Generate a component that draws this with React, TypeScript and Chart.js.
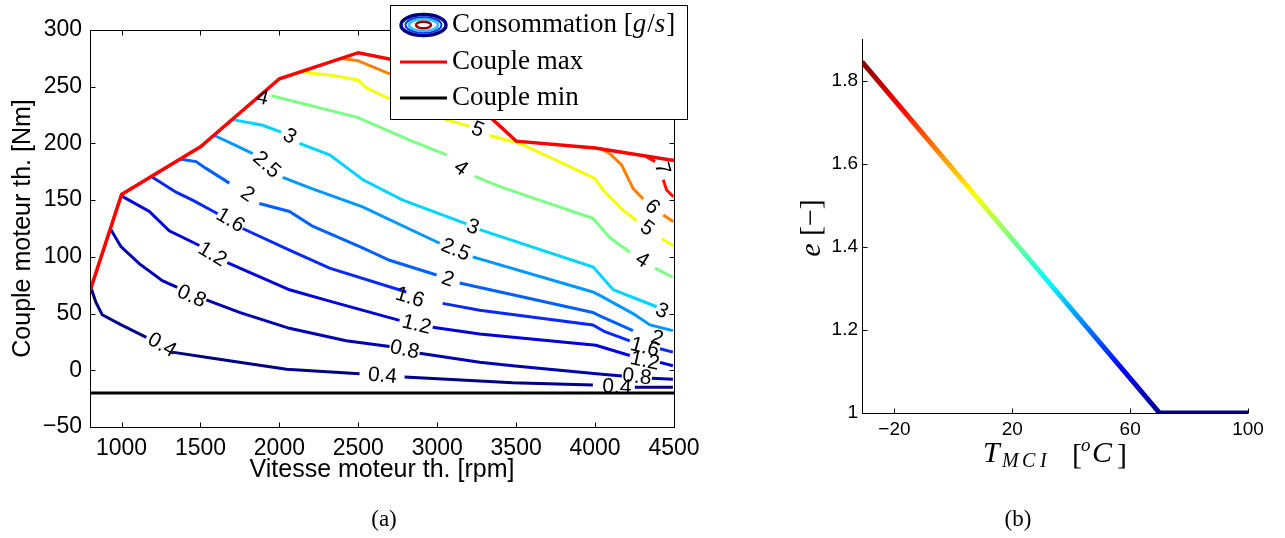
import React, { useEffect, useRef } from "react";
import { Chart, registerables } from "chart.js";

Chart.register(...registerables);

// ---------------- Panel (a) data ----------------
const speedTicks = [1000, 1500, 2000, 2500, 3000, 3500, 4000, 4500];
const torqueTicks = [-50, 0, 50, 100, 150, 200, 250, 300];
const maxSpeed = [800, 1000, 1500, 2000, 2500, 3000, 3500, 4000, 4500];
const maxTorque = [70, 155, 197, 257, 280, 266, 202, 196, 185];
const minSpeed = [800, 4500];
const minTorque = [-20, -20];

type P = [number, number] | null;
// iso-consumption contours [rpm, Nm]; null = gap for an inline label
const c04: P[] = [[806, 73], [837, 60], [877, 49], [998, 40], [1157, 29], null, [1321, 16], [1556, 11], [2045, 1], [2508, -3], null, [2793, -6], [3478, -11], [3986, -13], null, [4252, -15], [4493, -15]];
const c08: P[] = [[933, 124], [996, 109], [1112, 94], [1258, 79], [1353, 73], null, [1537, 62], [1747, 51], [2064, 37], [2423, 26], [2698, 21], null, [2888, 15], [3269, 7], [3478, 4], [4009, -3], [4170, -5], null, [4360, -7], [4493, -8]];
const c12: P[] = [[996, 154], [1176, 140], [1302, 123], [1493, 110], null, [1670, 95], [2064, 71], [2318, 61], [2761, 44], null, [2971, 38], [3269, 32], [4005, 22], [4220, 13], null, [4411, 7], [4493, 4]];
const c16: P[] = [[1186, 171], [1345, 157], [1450, 150], [1609, 138], null, [1767, 125], [2064, 106], [2318, 90], [2804, 69], null, [3034, 59], [3269, 53], [3986, 40], [4062, 34], [4220, 26], null, [4411, 19], [4493, 16]];
const c2: P[] = [[1377, 186], [1472, 184], [1535, 178], [1683, 165], null, [1873, 147], [2064, 140], [2210, 127], [2527, 108], [2698, 97], [2996, 84], null, [3142, 77], [3986, 51], [4030, 48], [4240, 35]];
const c25: P[] = [[1588, 207], [1726, 198], [1831, 191], null, [2021, 170], [2210, 160], [2527, 144], [3015, 112], null, [3225, 100], [3986, 69], [4030, 66], [4240, 50], [4348, 40], [4493, 35]];
const c3: P[] = [[1704, 221], [1894, 216], [2011, 210], null, [2127, 200], [2318, 190], [2529, 168], [2782, 150], [3185, 129], null, [3269, 124], [3988, 91], [4115, 71], [4390, 56]];
const c4: P[] = [[1950, 242], [2064, 238], [2495, 223], [2825, 203], [3060, 190], null, [3237, 171], [3415, 161], [3986, 134], [4093, 117], [4220, 104], null, [4380, 90], [4493, 82]];
const c5: P[] = [[2138, 263], [2338, 260], [2497, 256], [2550, 249], [2688, 240], [3058, 221], [3206, 215], null, [3332, 207], [3523, 200], [3756, 185], [3999, 169], [4051, 159], [4178, 141], [4263, 132], null, [4422, 116], [4496, 110]];
const c6: P[] = [[2381, 275], [2497, 273], [2687, 262], [2900, 252], [3150, 246], null, [4030, 196], [4093, 191], [4168, 181], [4242, 160], [4305, 151], null, [4432, 137], [4496, 131]];
const c7: P[] = [[4327, 188], [4380, 184], null, [4432, 168], [4453, 159], [4496, 153]];

const levels = ["0.4", "0.8", "1.2", "1.6", "2", "2.5", "3", "4", "5", "6", "7"];
const levelColors = ["#000088", "#0000B4", "#0000E0", "#0828FF", "#0060FF", "#0098FF", "#00D4FF", "#7CFF84", "#F4FF00", "#FF8000", "#FF1000"];
const contourLines = [c04, c08, c12, c16, c2, c25, c3, c4, c5, c6, c7];

const contourLabels = [
  { t: "0.4", x: 1255, y: 22, a: 30 },
  { t: "0.4", x: 2653, y: -5, a: 5 },
  { t: "0.4", x: 4138, y: -15, a: 3 },
  { t: "0.8", x: 1442, y: 65, a: 24 },
  { t: "0.8", x: 2793, y: 18, a: 12 },
  { t: "0.8", x: 4265, y: -6, a: 6 },
  { t: "1.2", x: 1575, y: 102, a: 31 },
  { t: "1.2", x: 2869, y: 40, a: 14 },
  { t: "1.2", x: 4315, y: 8, a: 12 },
  { t: "1.6", x: 1689, y: 132, a: 31 },
  { t: "1.6", x: 2826, y: 64, a: 17 },
  { t: "1.6", x: 4315, y: 20, a: 15 },
  { t: "2", x: 1797, y: 155, a: 34 },
  { t: "2", x: 3066, y: 80, a: 19 },
  { t: "2", x: 4392, y: 28, a: 17 },
  { t: "2.5", x: 1918, y: 181, a: 42 },
  { t: "2.5", x: 3116, y: 106, a: 23 },
  { t: "3", x: 2064, y: 206, a: 31 },
  { t: "3", x: 3225, y: 126, a: 20 },
  { t: "3", x: 4422, y: 52, a: 25 },
  { t: "4", x: 1892, y: 240, a: 14 },
  { t: "4", x: 3149, y: 178, a: 37 },
  { t: "4", x: 4297, y: 97, a: 33 },
  { t: "5", x: 3256, y: 212, a: 22 },
  { t: "5", x: 4328, y: 125, a: 36 },
  { t: "6", x: 4360, y: 144, a: 45 },
  { t: "7", x: 4423, y: 178, a: 75 },
];

// ---------------- Panel (b) data ----------------
const tempTicks = [-20, 20, 60, 100];
const eTicks = [1, 1.2, 1.4, 1.6, 1.8];
const tempValues = [-31, 70, 100];
const eValues = [1.845, 1, 1];

const jetStops: [number, string][] = [
  [0, "#00008F"], [0.125, "#0000FF"], [0.375, "#00FFFF"], [0.625, "#FFFF00"], [0.875, "#FF0000"], [1, "#800000"],
];

const SANS = '"Liberation Sans", Arial, Helvetica, sans-serif';
const SERIF = '"Liberation Serif", "Times New Roman", serif';

const fmt = (v: any) => {
  const n = Number(v);
  return n < 0 ? "\u2212" + String(Math.abs(n)) : String(n);
};

const toXY = (pts: P[]) =>
  pts.map((p, i) => {
    if (p) return { x: p[0], y: p[1] };
    const prev = pts[i - 1] as [number, number];
    return { x: prev[0], y: null };
  });

function drawLegend(ctx: CanvasRenderingContext2D) {
  const L = 390, T = 5, R = 688, B = 120;
  ctx.save();
  ctx.fillStyle = "#fff";
  ctx.fillRect(L, T, R - L, B - T);
  ctx.strokeStyle = "#000";
  ctx.lineWidth = 1;
  ctx.strokeRect(L + 0.5, T + 0.5, R - L - 1, B - T - 1);

  const ell = (rx: number, ry: number, color: string, w: number) => {
    ctx.beginPath();
    ctx.ellipse(423.5, 25, rx, ry, 0, 0, Math.PI * 2);
    ctx.strokeStyle = color;
    ctx.lineWidth = w;
    ctx.stroke();
  };
  ell(22.5, 10.5, "#000080", 3.5);
  ell(18, 7.8, "#0030FF", 2);
  ell(14.5, 6, "#30C0FF", 2.5);
  ell(7.5, 3.3, "#9A0000", 2.5);

  ctx.lineWidth = 3;
  ctx.strokeStyle = "#FF0000";
  ctx.beginPath(); ctx.moveTo(400, 62); ctx.lineTo(447, 62); ctx.stroke();
  ctx.strokeStyle = "#000";
  ctx.beginPath(); ctx.moveTo(400, 98); ctx.lineTo(447, 98); ctx.stroke();

  ctx.fillStyle = "#000";
  ctx.textBaseline = "middle";
  ctx.textAlign = "left";
  const up = "27px " + SERIF;
  const it = "italic 27px " + SERIF;
  let x = 452;
  const parts: [string, string][] = [["Consommation [", up], ["g", it], ["/", up], ["s", it], ["]", up]];
  for (const [s, f] of parts) {
    ctx.font = f;
    ctx.fillText(s, x, 25);
    x += ctx.measureText(s).width + (s === "g" || s === "s" ? 1 : 0);
  }
  ctx.font = up;
  ctx.fillText("Couple max", 452, 62);
  ctx.fillText("Couple min", 452, 98);
  ctx.restore();
}

const labelsPlugin = {
  id: "contourLabels",
  afterDatasetsDraw(chart: any) {
    const { ctx, scales } = chart;
    ctx.save();
    ctx.font = "21px " + SANS;
    ctx.fillStyle = "#000";
    ctx.textAlign = "center";
    ctx.textBaseline = "middle";
    for (const l of contourLabels) {
      ctx.save();
      ctx.translate(scales.x.getPixelForValue(l.x), scales.y.getPixelForValue(l.y));
      ctx.rotate((l.a * Math.PI) / 180);
      ctx.fillText(l.t, 0, 0);
      ctx.restore();
    }
    ctx.restore();
  },
};

const framePluginA = {
  id: "frameA",
  afterDraw(chart: any) {
    const { ctx, chartArea: a, scales } = chart;
    ctx.save();
    ctx.strokeStyle = "#000";
    ctx.lineWidth = 1;
    const l = Math.round(a.left) + 0.5, r = Math.round(a.right) + 0.5;
    const t = Math.round(a.top) + 0.5, b = Math.round(a.bottom) + 0.5;
    ctx.strokeRect(l, t, r - l, b - t);
    ctx.beginPath();
    for (const v of speedTicks) {
      const px = Math.round(scales.x.getPixelForValue(v)) + 0.5;
      ctx.moveTo(px, b); ctx.lineTo(px, b - 5);
      ctx.moveTo(px, t); ctx.lineTo(px, t + 5);
    }
    for (const v of torqueTicks) {
      const py = Math.round(scales.y.getPixelForValue(v)) + 0.5;
      ctx.moveTo(l, py); ctx.lineTo(l + 5, py);
      ctx.moveTo(r, py); ctx.lineTo(r - 5, py);
    }
    ctx.stroke();

    ctx.fillStyle = "#000";
    ctx.font = "25px " + SANS;
    ctx.textAlign = "center";
    ctx.textBaseline = "middle";
    ctx.fillText("Vitesse moteur th. [rpm]", (a.left + a.right) / 2, 470);
    ctx.save();
    ctx.translate(23, (a.top + a.bottom) / 2);
    ctx.rotate(-Math.PI / 2);
    ctx.fillText("Couple moteur th. [Nm]", 0, 0);
    ctx.restore();

    drawLegend(ctx);
    ctx.restore();
  },
};

const framePluginB = {
  id: "frameB",
  beforeDatasetsDraw(chart: any) {
    const { ctx, chartArea: a, scales } = chart;
    ctx.save();
    ctx.strokeStyle = "#000";
    ctx.lineWidth = 1;
    const l = Math.round(a.left) + 0.5, r = Math.round(a.right);
    const t = Math.round(a.top), b = Math.round(a.bottom) + 0.5;
    ctx.beginPath();
    ctx.moveTo(l, t); ctx.lineTo(l, b);
    ctx.moveTo(l, b); ctx.lineTo(r, b);
    for (const v of tempTicks) {
      const px = Math.round(scales.x.getPixelForValue(v)) + 0.5;
      ctx.moveTo(px, b); ctx.lineTo(px, b - 5);
    }
    for (const v of eTicks) {
      const py = Math.round(scales.y.getPixelForValue(v)) + 0.5;
      ctx.moveTo(l, py); ctx.lineTo(l + 5, py);
    }
    ctx.stroke();
    ctx.restore();
  },
  afterDraw(chart: any) {
    const { ctx } = chart;
    ctx.save();
    ctx.fillStyle = "#000";
    ctx.textAlign = "left";
    ctx.textBaseline = "alphabetic";
    // x title: T_MCI [°C]
    ctx.font = "italic 30px " + SERIF;
    ctx.fillText("T", 283, 462);
    ctx.font = "italic 20px " + SERIF;
    ctx.fillText("M", 302, 467);
    ctx.fillText("C", 322, 467);
    ctx.fillText("I", 340, 467);
    ctx.font = "30px " + SERIF;
    ctx.fillText("[", 372, 464);
    ctx.font = "italic 19px " + SERIF;
    ctx.fillText("o", 381, 451);
    ctx.font = "italic 30px " + SERIF;
    ctx.fillText("C", 392, 462);
    ctx.font = "30px " + SERIF;
    ctx.fillText("]", 417, 464);
    // y title: e [−]
    ctx.save();
    ctx.translate(112, 228);
    ctx.rotate(-Math.PI / 2);
    ctx.textBaseline = "middle";
    ctx.font = "italic 30px " + SERIF;
    const wE = ctx.measureText("e").width;
    ctx.font = "30px " + SERIF;
    const rest = " [\u2212]";
    const wR = ctx.measureText(rest).width;
    const x0 = -(wE + wR) / 2;
    ctx.font = "italic 30px " + SERIF;
    ctx.fillText("e", x0, 0);
    ctx.font = "30px " + SERIF;
    ctx.fillText(rest, x0 + wE, 0);
    ctx.restore();
    ctx.restore();
  },
};

export default function App() {
  const refA = useRef<HTMLCanvasElement>(null);
  const refB = useRef<HTMLCanvasElement>(null);

  useEffect(() => {
    const datasetsA: any[] = [
      {
        label: "Couple max",
        data: maxSpeed.map((x, i) => ({ x, y: maxTorque[i] })),
        borderColor: "#FF0000",
        borderWidth: 3.5,
        pointRadius: 0,
      },
      {
        label: "Couple min",
        data: minSpeed.map((x, i) => ({ x, y: minTorque[i] })),
        borderColor: "#000000",
        borderWidth: 3,
        pointRadius: 0,
      },
      ...contourLines.map((pts, i) => ({
        label: levels[i],
        data: toXY(pts),
        borderColor: levelColors[i],
        borderWidth: 3,
        pointRadius: 0,
        spanGaps: false,
      })),
    ];

    const chartA = new Chart(refA.current as HTMLCanvasElement, {
      type: "line",
      data: { datasets: datasetsA },
      options: {
        animation: false,
        responsive: false,
        events: [],
        layout: { padding: { left: 0, right: 46, top: 30, bottom: 0 } },
        plugins: { legend: { display: false }, tooltip: { enabled: false } },
        scales: {
          x: {
            type: "linear",
            min: 800,
            max: 4500,
            afterBuildTicks: (s: any) => { s.ticks = speedTicks.map((v) => ({ value: v })); },
            afterFit: (s: any) => { s.height = 111; },
            grid: { display: false, drawTicks: false },
            border: { display: false },
            ticks: { padding: 8, autoSkip: false, maxRotation: 0, color: "#000", font: { family: SANS, size: 23 }, callback: fmt },
          },
          y: {
            type: "linear",
            min: -50,
            max: 300,
            afterBuildTicks: (s: any) => { s.ticks = torqueTicks.map((v) => ({ value: v })); },
            afterFit: (s: any) => { s.width = 90; },
            grid: { display: false, drawTicks: false },
            border: { display: false },
            ticks: { padding: 8, autoSkip: false, color: "#000", font: { family: SANS, size: 23 }, callback: fmt },
          },
        },
      } as any,
      plugins: [labelsPlugin, framePluginA],
    });

    const jet = (c: any) => {
      const ch = c.chart;
      const ys = ch.scales && ch.scales.y;
      if (!ch.chartArea || !ys) return jetStops[0][1];
      const g = ch.ctx.createLinearGradient(
        0, ys.getPixelForValue(Math.min(...eValues)),
        0, ys.getPixelForValue(Math.max(...eValues))
      );
      jetStops.forEach(([t, col]) => g.addColorStop(t, col));
      return g;
    };

    const chartB = new Chart(refB.current as HTMLCanvasElement, {
      type: "line",
      data: {
        datasets: [
          {
            label: "e",
            data: tempValues.map((x, i) => ({ x, y: eValues[i] })),
            borderColor: jet,
            borderWidth: 5,
            pointRadius: 0,
            borderCapStyle: "butt",
            borderJoinStyle: "miter",
          },
        ],
      },
      options: {
        animation: false,
        responsive: false,
        events: [],
        layout: { padding: { left: 0, right: 37, top: 39, bottom: 0 } },
        plugins: { legend: { display: false }, tooltip: { enabled: false } },
        scales: {
          x: {
            type: "linear",
            min: -31,
            max: 100,
            afterBuildTicks: (s: any) => { s.ticks = tempTicks.map((v) => ({ value: v })); },
            afterFit: (s: any) => { s.height = 125; },
            grid: { display: false, drawTicks: false },
            border: { display: false },
            ticks: { padding: 5, autoSkip: false, maxRotation: 0, color: "#000", font: { family: SANS, size: 19 }, callback: fmt },
          },
          y: {
            type: "linear",
            min: 1,
            max: 1.9,
            afterBuildTicks: (s: any) => { s.ticks = eTicks.map((v) => ({ value: v })); },
            afterFit: (s: any) => { s.width = 162; },
            grid: { display: false, drawTicks: false },
            border: { display: false },
            ticks: { padding: 4, autoSkip: false, color: "#000", font: { family: SANS, size: 19 }, callback: fmt },
          },
        },
      } as any,
      plugins: [framePluginB],
    });

    return () => {
      chartA.destroy();
      chartB.destroy();
    };
  }, []);

  const cap: React.CSSProperties = {
    position: "absolute",
    top: 505,
    width: 100,
    textAlign: "center",
    fontFamily: SERIF,
    fontSize: 23,
    lineHeight: "28px",
    color: "#000",
  };

  return (
    <div style={{ position: "absolute", left: 0, top: 0, width: 1285, height: 538, background: "#fff", overflow: "hidden" }}>
      <canvas ref={refA} width={720} height={538} style={{ position: "absolute", left: 0, top: 0 }} />
      <canvas ref={refB} width={585} height={538} style={{ position: "absolute", left: 700, top: 0 }} />
      <div style={{ ...cap, left: 334 }}>(a)</div>
      <div style={{ ...cap, left: 968 }}>(b)</div>
    </div>
  );
}
